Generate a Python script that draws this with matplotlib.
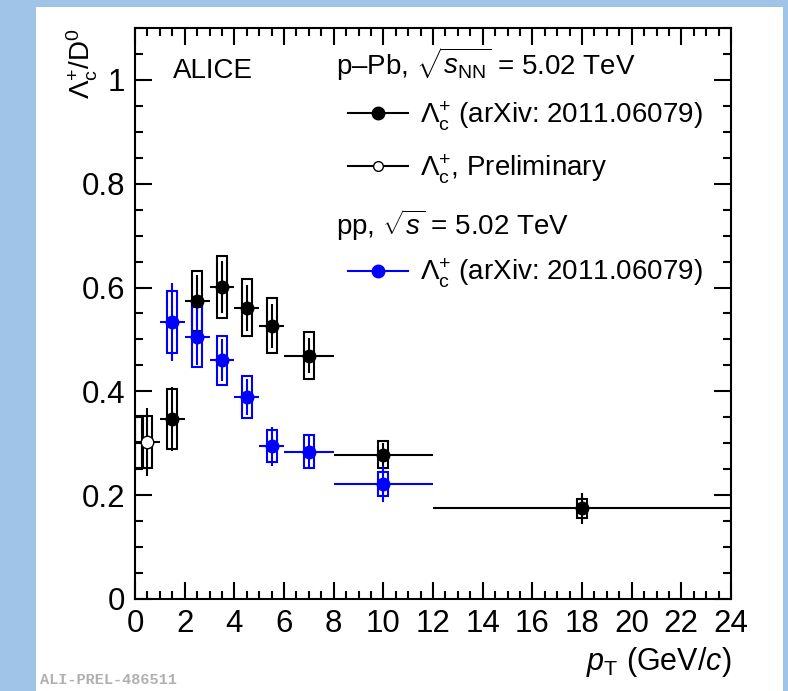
import matplotlib
matplotlib.use("Agg")
import matplotlib.pyplot as plt
from matplotlib.patches import Rectangle
from matplotlib.ticker import MultipleLocator, FuncFormatter

plt.rcParams['font.family'] = ['Liberation Sans', 'DejaVu Sans']
plt.rcParams['mathtext.fontset'] = 'custom'
plt.rcParams['mathtext.rm'] = 'Liberation Sans'
plt.rcParams['mathtext.it'] = 'Liberation Sans:italic'
plt.rcParams['mathtext.bf'] = 'Liberation Sans:bold'

# ---------------- data ----------------
# p-Pb, Lambda_c+/D0 (arXiv: 2011.06079)
ppb_x = [1.5, 2.5, 3.5, 4.5, 5.5, 7.0, 10.0, 18.0]
ppb_ex = [0.5, 0.5, 0.5, 0.5, 0.5, 1.0, 2.0, 6.0]
ppb_y = [0.347, 0.574, 0.601, 0.561, 0.526, 0.469, 0.278, 0.175]
ppb_stat = [0.062, 0.050, 0.050, 0.044, 0.043, 0.033, 0.022, 0.030]
ppb_syst = [0.058, 0.058, 0.060, 0.055, 0.053, 0.046, 0.026, 0.018]

# p-Pb, preliminary
pre_x = [0.5]
pre_ex = [0.5]
pre_y = [0.3025]
pre_stat = [0.065]
pre_syst = [0.051]

# pp, Lambda_c+/D0 (arXiv: 2011.06079)
pp_x = [1.5, 2.5, 3.5, 4.5, 5.5, 7.0, 10.0]
pp_ex = [0.5, 0.5, 0.5, 0.5, 0.5, 1.0, 2.0]
pp_y = [0.533, 0.505, 0.460, 0.389, 0.294, 0.284, 0.221]
pp_stat = [0.075, 0.055, 0.040, 0.035, 0.037, 0.033, 0.035]
pp_syst = [0.060, 0.058, 0.047, 0.040, 0.031, 0.031, 0.023]

x_ticks = [0, 2, 4, 6, 8, 10, 12, 14, 16, 18, 20, 22, 24]
y_ticks = [0, 0.2, 0.4, 0.6, 0.8, 1.0]

# ---------------- figure ----------------
W, H = 788, 691
fig = plt.figure(figsize=(W / 100, H / 100), dpi=100)
fig.patch.set_facecolor('#9fc4e7')
fig.patches.append(Rectangle((36 / W, 0), (783 - 36) / W, (H - 7) / H,
                             transform=fig.transFigure, facecolor='white',
                             edgecolor='none', zorder=-5))

ax = fig.add_axes([135 / W, (H - 599) / H, 596 / W, 571 / H])
ax.set_facecolor('white')
ax.set_xlim(0, 24)
ax.set_ylim(0, 1.1)

BW = 0.2  # half-width of systematic boxes


def boxes(xs, ys, ss, color):
    for x, y, s in zip(xs, ys, ss):
        ax.add_patch(Rectangle((x - BW, y - s), 2 * BW, 2 * s, fill=False,
                               edgecolor=color, lw=1.5, zorder=2))


boxes(ppb_x, ppb_y, ppb_syst, 'black')
boxes(pre_x, pre_y, pre_syst, 'black')
# extra (clipped) box seen at the left edge of the preliminary point
for y, s in zip(pre_y, pre_syst):
    ax.add_patch(Rectangle((0.0, y - s), pre_x[0] - BW + 0.02, 2 * s, fill=False,
                           edgecolor='black', lw=1.5, zorder=2))
boxes(pp_x, pp_y, pp_syst, 'blue')

ax.errorbar(ppb_x, ppb_y, yerr=ppb_stat, xerr=ppb_ex, fmt='o', color='black',
            ms=9, elinewidth=1.5, capsize=0, zorder=3)
ax.errorbar(pre_x, pre_y, yerr=pre_stat, xerr=pre_ex, fmt='o', color='black',
            mfc='white', mec='black', mew=1.0, ms=9, elinewidth=1.5,
            capsize=0, zorder=3)
ax.errorbar(pp_x, pp_y, yerr=pp_stat, xerr=pp_ex, fmt='o', color='blue',
            ms=9, elinewidth=1.5, capsize=0, zorder=3)

# ---------------- axes styling ----------------
ax.set_xticks(x_ticks)
ax.set_yticks(y_ticks)
ax.xaxis.set_minor_locator(MultipleLocator(0.5))
ax.yaxis.set_minor_locator(MultipleLocator(0.05))
fmt = FuncFormatter(lambda v, p: '%g' % round(v, 3))
ax.xaxis.set_major_formatter(fmt)
ax.yaxis.set_major_formatter(fmt)
ax.tick_params(which='both', direction='in', top=True, right=True, width=1.5,
               labelsize=22.5, pad=7)
ax.tick_params(which='major', length=12)
ax.tick_params(which='minor', length=6)
for sp in ax.spines.values():
    sp.set_linewidth(1.5)

ax.set_xlabel(r'$p_{\rm T}$ (GeV/$c$)', fontsize=22, loc='right')
ax.xaxis.set_label_coords(1.0, -0.08)
ax.set_ylabel(r'$\Lambda_{\rm c}^{+}$/D$^{0}$', fontsize=20, loc='top')
ax.yaxis.set_label_coords(-0.058, 1.0)

# ---------------- text & legend ----------------
T = ax.transAxes
FS = 20
ax.text(0.0633, 0.912, 'ALICE', transform=T, fontsize=FS, va='baseline')
ax.text(0.3372, 0.918, r'p–Pb, $\sqrt{s_{\rm NN}}$ = 5.02 TeV', transform=T,
        fontsize=FS, va='baseline')
ax.text(0.3372, 0.6375, r'pp, $\sqrt{s}$ = 5.02 TeV', transform=T,
        fontsize=FS, va='baseline')

entries = [
    (0.8517, 0.833, 'black', 'black', r'$\Lambda_{\rm c}^{+}$ (arXiv: 2011.06079)', 9),
    (0.7583, 0.7396, 'black', 'white', r'$\Lambda_{\rm c}^{+}$, Preliminary', 7),
    (0.575, 0.5575, 'blue', 'blue', r'$\Lambda_{\rm c}^{+}$ (arXiv: 2011.06079)', 9),
]
for yl, yt, c, mfc, label, ms in entries:
    ax.plot([0.357, 0.458], [yl, yl], transform=T, color=c, lw=1.5,
            clip_on=False, zorder=4)
    ax.plot([0.4075], [yl], 'o', transform=T, color=c, mfc=mfc, mec=c,
            mew=1.0, ms=ms, clip_on=False, zorder=5)
    ax.text(0.478, yt, label, transform=T, fontsize=FS, va='baseline')

fig.text(40 / W, (H - 680) / H, 'ALI-PREL-486511', family='Liberation Mono',
         weight='bold', color='#b0b0b0', fontsize=11, va='center')

fig.savefig('out.png', dpi=100, facecolor=fig.get_facecolor())
